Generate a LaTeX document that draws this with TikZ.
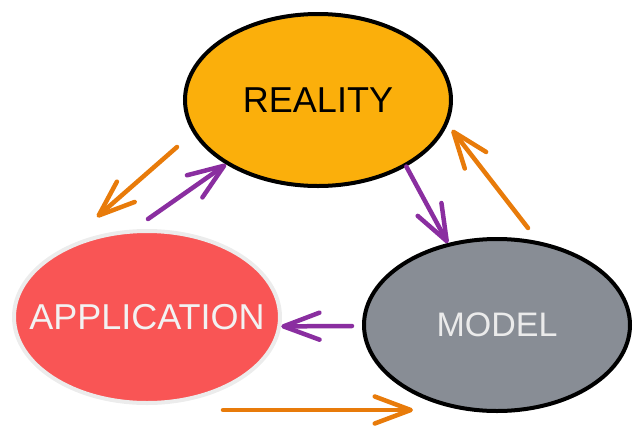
\documentclass[tikz,border=0pt]{standalone}
\usepackage{fontspec}
\setmainfont{Liberation Sans}
\usetikzlibrary{shapes.geometric,arrows.meta}
\definecolor{realityfill}{HTML}{FBAF0B}
\definecolor{appfill}{HTML}{F95555}
\definecolor{appline}{HTML}{ECECEC}
\definecolor{modelfill}{HTML}{888D95}
\definecolor{arroworange}{HTML}{E87B0A}
\definecolor{arrowpurple}{HTML}{8A2EA0}
\begin{document}
\begin{tikzpicture}[x=1pt, y=-1pt,
  blob/.style={ellipse, minimum width=266pt, minimum height=172pt, inner xsep=-60pt, inner ysep=0pt, line width=4pt},
  link/.style={line width=4.5pt, line cap=round, -{Straight Barb[length=36pt, width=27pt, round]}}]
  \useasboundingbox (0,0) rectangle (638,437);
  \node[blob, draw=black, fill=realityfill, text=black, font=\fontsize{36}{40}\selectfont] (reality) at (318,100) {REALITY};
  \node[blob, draw=appline, fill=appfill, text=white!95!black, font=\fontsize{36}{40}\selectfont] (application) at (147,317) {APPLICATION};
  \node[blob, draw=black, fill=modelfill, text=white!92!black, font=\fontsize{34}{38}\selectfont] (model) at (497,325) {MODEL};
  \coordinate (ra) at (177,147);
  \coordinate (ar) at (97,217);
  \coordinate (ap) at (148,219);
  \coordinate (mr) at (528,228);
  \coordinate (rm) at (452,130);
  \coordinate (ma) at (352,326);
  \coordinate (am) at (223,410);
  \coordinate (mm) at (413,410);
  \draw[link, arroworange] (ra) -- (ar);
  \draw[link, arrowpurple] (ap) -- (reality.215);
  \draw[link, arrowpurple] (reality.-37) -- (model.121);
  \draw[link, arroworange] (mr) -- (rm);
  \draw[link, arrowpurple] (ma) -- (application.-4);
  \draw[link, arroworange] (am) -- (mm);
\end{tikzpicture}
\end{document}
